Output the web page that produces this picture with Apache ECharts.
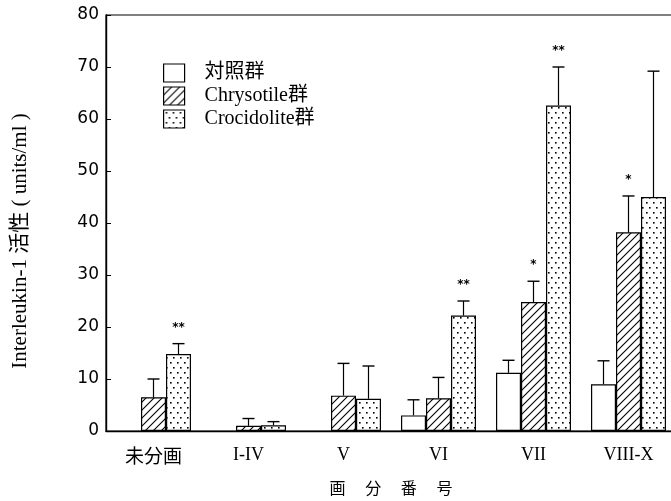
<!DOCTYPE html>
<html>
<head>
<meta charset="utf-8">
<script src="https://cdn.jsdelivr.net/npm/echarts@6/dist/echarts.min.js"></script>
<style>html,body{margin:0;padding:0;background:#fff;overflow:hidden}#c{width:680px;height:501px}</style>
</head>
<body>
<div id="c"></div>
<script>
// ---- data ----
const categories = ['未分画', 'I-IV', 'V', 'VI', 'VII', 'VIII-X'];
const seriesNames = ['対照群', 'Chrysotile群', 'Crocidolite群'];
const controlValues = [null, null, null, 3.0, 11.2, 9.0];
const controlErrTop = [null, null, null, 6.0, 13.6, 13.5];
const chrysotileValues = [6.5, 1.0, 6.8, 6.3, 24.8, 38.2];
const chrysotileErrTop = [10.0, 2.4, 13.0, 10.3, 28.8, 45.2];
const crocidoliteValues = [14.8, 1.1, 6.2, 22.2, 62.6, 45.0];
const crocidoliteErrTop = [16.8, 1.8, 12.5, 25.0, 70.0, 69.2];
const chrysotileStars = ['', '', '', '', '*', '*'];
const crocidoliteStars = ['**', '', '', '**', '**', ''];
const yTicks = [0, 10, 20, 30, 40, 50, 60, 70, 80];
const yTitle = 'Interleukin-1 活性 ( units/ml )';
const xTitle = '画\u3000 分\u3000 番\u3000 号';

// ---- patterns ----
function hatchPattern() {
  const c = document.createElement('canvas'); c.width = 8; c.height = 8;
  const g = c.getContext('2d');
  g.fillStyle = '#fff'; g.fillRect(0, 0, 8, 8);
  g.strokeStyle = '#000'; g.lineWidth = 1.1;
  g.beginPath();
  g.moveTo(0, 8); g.lineTo(8, 0);
  g.moveTo(-1, 1); g.lineTo(1, -1);
  g.moveTo(7, 9); g.lineTo(9, 7);
  g.stroke();
  return c;
}
function dotPattern() {
  const c = document.createElement('canvas'); c.width = 7; c.height = 10;
  const g = c.getContext('2d');
  g.fillStyle = '#fff'; g.fillRect(0, 0, 7, 10);
  g.fillStyle = '#000';
  g.fillRect(2, 2, 1.6, 1.6);
  g.fillRect(5, 7, 1.6, 1.6);
  return c;
}

const BAR_W = 25;
const offsets = [-BAR_W, 0, BAR_W];
const latin = '"Liberation Serif", "Noto Sans CJK JP", serif';

function errSeries(idx, vals, tops) {
  return {
    type: 'custom',
    silent: true,
    z: 5,
    data: categories.map((c, i) => [i, vals[i], tops[i]]).filter(d => d[1] != null && d[2] != null),
    renderItem: function (params, api) {
      const i = api.value(0);
      const p0 = api.coord([i, api.value(1)]);
      const p1 = api.coord([i, api.value(2)]);
      const x = p0[0] + offsets[idx];
      return {
        type: 'group',
        children: [
          { type: 'line', shape: { x1: x, y1: p0[1], x2: x, y2: p1[1] }, style: { stroke: '#000', lineWidth: 1.2 } },
          { type: 'line', shape: { x1: x - 6, y1: p1[1], x2: x + 6, y2: p1[1] }, style: { stroke: '#000', lineWidth: 1.4 } }
        ]
      };
    }
  };
}
function starSeries(idx, tops, stars) {
  return {
    type: 'custom',
    silent: true,
    z: 6,
    data: categories.map((c, i) => [i, tops[i], stars[i]]).filter(d => d[2]),
    renderItem: function (params, api) {
      const i = api.value(0);
      const p = api.coord([i, api.value(1)]);
      return {
        type: 'text',
        style: {
          x: p[0] + offsets[idx], y: p[1] - 10,
          text: stars[i],
          fill: '#000', font: 'bold 12px "DejaVu Sans"',
          align: 'center', verticalAlign: 'bottom'
        }
      };
    }
  };
}

const chart = echarts.init(document.getElementById('c'));
const barBase = { type: 'bar', barWidth: BAR_W, barGap: '0%' };
chart.setOption({
  animation: false,
  backgroundColor: '#fff',
  grid: { left: 106, top: 15, width: 570, height: 417, show: true, borderColor: '#000', borderWidth: 1.2, backgroundColor: 'transparent' },
  legend: {
    orient: 'vertical', left: 158, top: 58,
    icon: 'rect',
    itemWidth: 21, itemHeight: 18, itemGap: 3,
    data: seriesNames,
    textStyle: { fontFamily: latin, fontSize: 20, lineHeight: 19, color: '#000', padding: [0, 0, 0, 15] },
    itemStyle: { borderColor: '#000', borderWidth: 1.2 }
  },
  graphic: [{
    type: 'text',
    rotation: Math.PI / 2,
    x: 20, y: 241,
    style: { text: yTitle, font: '21px "Liberation Serif", "Noto Sans CJK JP"', fill: '#000', align: 'center', verticalAlign: 'middle' }
  }],
  xAxis: {
    type: 'category', data: categories,
    axisLine: { lineStyle: { color: '#000', width: 1.4 } },
    axisTick: { show: false },
    axisLabel: { color: '#000', fontFamily: latin, fontSize: 18, margin: 15, interval: 0, hideOverlap: false,
      formatter: v => (/^[IVX\-]+$/.test(v) ? v : '{cjk|' + v + '}'),
      rich: { cjk: { fontFamily: '"Noto Sans CJK JP"', fontSize: 19, color: '#000' } } },
    name: xTitle,
    nameLocation: 'middle', nameGap: 49,
    nameTextStyle: { fontFamily: '"Noto Sans CJK JP"', fontSize: 16, color: '#000' }
  },
  yAxis: {
    type: 'value', min: 0, max: 80, interval: 10,
    splitLine: { show: false },
    axisLine: { show: true, lineStyle: { color: '#000', width: 1.4 } },
    axisTick: { show: true, inside: true, length: 5, lineStyle: { color: '#000' } },
    axisLabel: { color: '#000', fontFamily: '"DejaVu Sans"', fontSize: 17, margin: 7,
      formatter: v => (yTicks.indexOf(v) >= 0 ? String(v) : '') }
  },
  series: [
    Object.assign({}, barBase, { name: seriesNames[0], data: controlValues, itemStyle: { color: '#fff', borderColor: '#000', borderWidth: 1.2 } }),
    Object.assign({}, barBase, { name: seriesNames[1], data: chrysotileValues, itemStyle: { color: { image: hatchPattern(), repeat: 'repeat' }, borderColor: '#000', borderWidth: 1.2 } }),
    Object.assign({}, barBase, { name: seriesNames[2], data: crocidoliteValues, itemStyle: { color: { image: dotPattern(), repeat: 'repeat' }, borderColor: '#000', borderWidth: 1.2 } }),
    errSeries(0, controlValues, controlErrTop),
    errSeries(1, chrysotileValues, chrysotileErrTop),
    errSeries(2, crocidoliteValues, crocidoliteErrTop),
    starSeries(1, chrysotileErrTop, chrysotileStars),
    starSeries(2, crocidoliteErrTop, crocidoliteStars)
  ]
});
</script>
</body>
</html>
